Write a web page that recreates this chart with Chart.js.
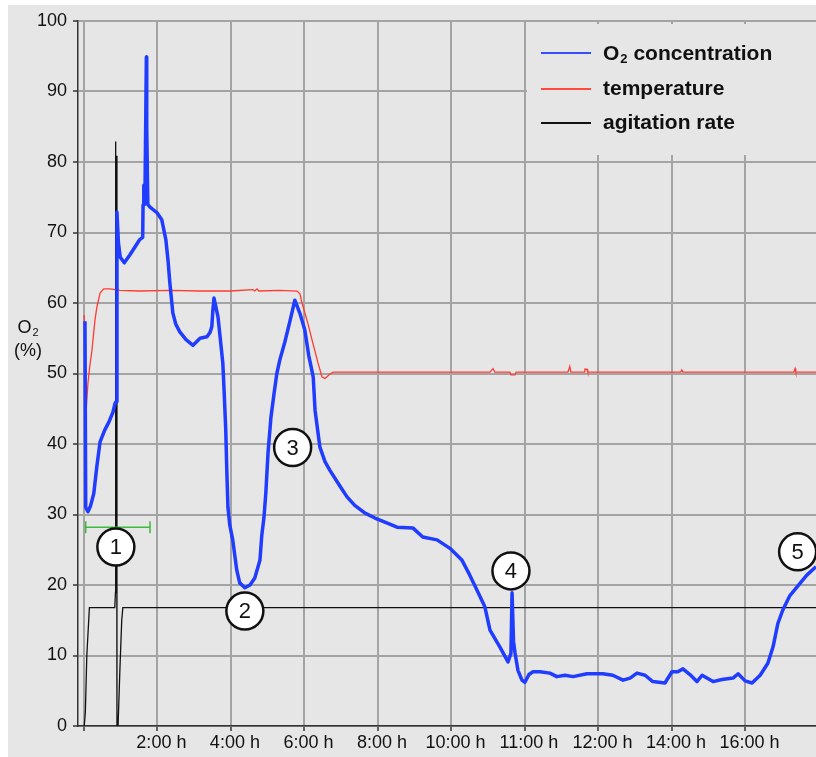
<!DOCTYPE html>
<html>
<head>
<meta charset="utf-8">
<script src="https://cdn.jsdelivr.net/npm/chart.js@4.4.1/dist/chart.umd.min.js"></script>
<style>
  html, body { margin: 0; padding: 0; background: #ffffff; }
  canvas { display: block; }
</style>
</head>
<body>
<canvas id="chart" width="816" height="757"></canvas>
<script>
// === Datos (tiempo en unidades del eje: 2 por division) ===
const xTickVals = [0, 2, 4, 6, 8, 10, 12, 14, 16, 18];
const xTickLabels = ['', '2:00 h', '4:00 h', '6:00 h', '8:00 h', '10:00 h', '11:00 h', '12:00 h', '14:00 h', '16:00 h'];

const o2Time = [0.03, 0.05, 0.11, 0.18, 0.27, 0.35, 0.44, 0.57, 0.68, 0.79, 0.85, 0.88, 0.90, 0.94, 0.99, 1.10,
  1.25, 1.52, 1.60, 1.61, 1.63, 1.66, 1.70, 1.71, 1.74, 1.80, 1.99, 2.12, 2.23, 2.29, 2.34, 2.42, 2.50, 2.61,
  2.78, 2.97, 3.16, 3.35, 3.43, 3.48, 3.51, 3.54, 3.59, 3.65, 3.73, 3.78, 3.82, 3.86, 3.89, 3.92, 3.97, 4.05,
  4.16, 4.24, 4.38, 4.52, 4.65, 4.79, 4.84, 4.90, 4.95, 5.01, 5.09, 5.17, 5.25, 5.33, 5.47, 5.61, 5.74, 5.88,
  6.01, 6.12, 6.20, 6.24, 6.29, 6.42, 6.56, 6.69, 6.97, 7.16, 7.37, 7.65, 7.92, 8.24, 8.52, 8.95, 9.22, 9.61,
  9.96, 10.29, 10.50, 10.72, 10.91, 11.05, 11.32, 11.54, 11.62, 11.65, 11.69, 11.73, 11.81, 11.92, 12.00, 12.11,
  12.22, 12.41, 12.68, 12.87, 13.09, 13.31, 13.69, 14.12, 14.39, 14.67, 14.86, 15.05, 15.27, 15.48, 15.81, 16.00,
  16.16, 16.30, 16.49, 16.68, 16.82, 17.12, 17.36, 17.66, 17.80, 17.99, 18.18, 18.40, 18.61, 18.75, 18.88, 19.02,
  19.21, 19.40, 19.67, 19.92];
const o2Values = [57.4, 31, 30.4, 31.2, 33, 36.7, 40.3, 42, 43.1, 44.5, 45.8, 46, 72.9, 68.5, 66.5, 65.7,
  66.8, 69, 69.3, 73.9, 76.7, 74, 94.9, 85, 74, 73.6, 72.8, 71.8, 69, 66, 62.8, 58.6, 57, 55.9,
  54.8, 54, 55, 55.2, 55.8, 56.6, 59, 60.7, 59.5, 58, 54, 51.5, 47, 42, 36, 31, 28.5, 26.4,
  22.1, 20.3, 19.6, 20, 21, 23.5, 27, 29.6, 33, 38.7, 43.8, 47, 50, 51.9, 54.5, 57.5, 60.4, 58.5,
  56.2, 52.5, 50.5, 49.5, 44.8, 39.6, 37.5, 36.3, 34, 32.5, 31.3, 30.2, 29.5, 28.8, 28.2, 28.1, 26.8, 26.4,
  25.2, 23.5, 21.4, 19, 16.9, 13.6, 11.2, 9.1, 10.3, 18.9, 12, 10.4, 7.9, 6.5, 6.2, 7.3,
  7.7, 7.7, 7.5, 7.0, 7.2, 7.0, 7.4, 7.4, 7.2, 6.5, 6.8, 7.5, 7.2, 6.3, 6.1, 7.7,
  7.7, 8.1, 7.3, 6.3, 7.2, 6.3, 6.6, 6.8, 7.4, 6.4, 6.1, 7.2, 8.9, 11.2, 14.5, 16.5,
  18.5, 19.7, 21.4, 22.6];

const tempTime = [0.01, 0.04, 0.11, 0.16, 0.22, 0.30, 0.35, 0.44, 0.54, 0.71, 0.98, 1.52, 2.34, 3.16, 3.97,
  4.60, 4.65, 4.71, 4.76, 5.33, 5.80, 5.88, 5.93, 6.10, 6.23, 6.37, 6.48, 6.56, 6.69, 6.78, 11.05, 11.13,
  11.18, 11.59, 11.62, 11.73, 11.76, 13.17, 13.22, 13.25, 13.61, 13.63, 13.69, 13.71, 16.24, 16.27, 16.30,
  19.32, 19.35, 19.37, 19.92];
const tempValues = [58.3, 43, 48.6, 51, 53.3, 57.5, 59.3, 61.4, 62, 62, 61.8, 61.7, 61.8, 61.7, 61.7,
  61.9, 61.7, 62, 61.7, 61.8, 61.7, 61.3, 60.1, 57, 54.3, 51.5, 49.5, 49.3, 49.9, 50.2, 50.2, 50.7,
  50.2, 50.2, 49.8, 49.8, 50.2, 50.2, 51, 50.2, 50.2, 50.6, 50.6, 50.2, 50.2, 50.5, 50.2,
  50.2, 50.7, 50.2, 50.2];

const agitTime = [0.01, 0.04, 0.08, 0.15, 0.84, 0.86, 0.86, 0.87, 0.89, 0.90, 0.93, 0.98, 1.03, 1.06, 19.92];
const agitValues = [0, 2, 10, 16.8, 16.8, 19, 82.9, 20, 80.9, 0, 0, 8, 15, 16.8, 16.8];

// marcadores numerados y barra verde
const markerLabels = ['1', '2', '3', '4', '5'];
const markerTime = [0.87, 4.38, 5.68, 11.62, 19.42];
const markerValue = [25.4, 16.3, 39.5, 22.0, 24.7];
const barStart = 0.05;
const barEnd = 1.80;
const barValue = 28.2;

const toPoints = (xs, ys) => xs.map((x, i) => ({ x: x, y: ys[i] }));

const fondo = '#e6e6e6';
const fuente = 'Arial, "Liberation Sans", sans-serif';

function subO2(ctx, x, y, size, bold) {
    // dibuja "O" con subindice "2", devuelve el ancho
    const w = bold ? 'bold ' : '';
    ctx.font = w + size + 'px ' + fuente;
    ctx.fillText('O', x, y);
    const wo = ctx.measureText('O').width;
    ctx.font = w + Math.round(size * 0.62) + 'px ' + fuente;
    ctx.fillText('2', x + wo + 1, y + size * 0.28);
    return wo + 1 + ctx.measureText('2').width;
}

const decor = {
    id: 'decor',
    beforeDraw(chart) {
        const ctx = chart.ctx;
        ctx.save();
        ctx.fillStyle = '#ffffff';
        ctx.fillRect(0, 0, chart.width, chart.height);
        ctx.fillStyle = fondo;
        ctx.fillRect(8, 5, chart.width - 8, chart.height - 5);
        ctx.restore();
    },
    beforeDatasetsDraw(chart) {
        // caja de la leyenda tapa la rejilla
        const ctx = chart.ctx;
        ctx.save();
        ctx.fillStyle = fondo;
        ctx.fillRect(527, 24, chart.width - 527, 131);
        ctx.restore();
    },
    afterDatasetsDraw(chart) {
        const ctx = chart.ctx;
        const xs = chart.scales.x;
        const ys = chart.scales.y;
        ctx.save();

        // barra verde
        const bx1 = xs.getPixelForValue(barStart);
        const bx2 = xs.getPixelForValue(barEnd);
        const by = ys.getPixelForValue(barValue);
        ctx.strokeStyle = '#3dbb3d';
        ctx.lineWidth = 1.5;
        ctx.beginPath();
        ctx.moveTo(bx1, by); ctx.lineTo(bx2, by);
        ctx.moveTo(bx1, by - 6); ctx.lineTo(bx1, by + 6);
        ctx.moveTo(bx2, by - 6); ctx.lineTo(bx2, by + 6);
        ctx.stroke();

        // circulos numerados
        markerLabels.forEach((lab, i) => {
            const cx = xs.getPixelForValue(markerTime[i]);
            const cy = ys.getPixelForValue(markerValue[i]);
            ctx.beginPath();
            ctx.arc(cx, cy, 18.5, 0, Math.PI * 2);
            ctx.fillStyle = '#ffffff';
            ctx.fill();
            ctx.lineWidth = 2.5;
            ctx.strokeStyle = '#111111';
            ctx.stroke();
            ctx.fillStyle = '#111111';
            ctx.font = '22px ' + fuente;
            ctx.textAlign = 'center';
            ctx.textBaseline = 'middle';
            ctx.fillText(lab, cx, cy + 1);
        });

        // leyenda
        const filas = [
            { color: '#3a4cff', y: 53 },
            { color: '#ff4b3e', y: 89 },
            { color: '#111111', y: 123 }
        ];
        ctx.textAlign = 'left';
        ctx.textBaseline = 'middle';
        filas.forEach(f => {
            ctx.strokeStyle = f.color;
            ctx.lineWidth = 2;
            ctx.beginPath();
            ctx.moveTo(541, f.y); ctx.lineTo(591, f.y);
            ctx.stroke();
        });
        ctx.fillStyle = '#111111';
        const wO2 = subO2(ctx, 603, 54, 21, true);
        ctx.font = 'bold 21px ' + fuente;
        ctx.fillText(' concentration', 603 + wO2, 54);
        ctx.fillText('temperature', 603, 89);
        ctx.fillText('agitation rate', 603, 123);

        // titulo del eje y
        ctx.textAlign = 'left';
        const w = subO2(ctx, 0, -100, 18, false);
        subO2(ctx, 28 - w / 2, 328, 18, false);
        ctx.textAlign = 'center';
        ctx.font = '18px ' + fuente;
        ctx.fillText('(%)', 28, 351);

        ctx.restore();
    }
};

const chart = new Chart(document.getElementById('chart'), {
    type: 'line',
    data: {
        datasets: [
            { label: 'O₂ concentration', data: toPoints(o2Time, o2Values), borderColor: '#1f3cff', borderWidth: 3.5, pointRadius: 0, tension: 0, borderJoinStyle: 'round' },
            { label: 'temperature', data: toPoints(tempTime, tempValues), borderColor: '#ff3b30', borderWidth: 1.3, pointRadius: 0, tension: 0 },
            { label: 'agitation rate', data: toPoints(agitTime, agitValues), borderColor: '#111111', borderWidth: 1.3, pointRadius: 0, tension: 0 }
        ]
    },
    options: {
        responsive: false,
        animation: false,
        layout: { padding: { top: 21, left: 0, right: 0, bottom: 0 } },
        plugins: {
            legend: { display: false },
            tooltip: { enabled: false }
        },
        scales: {
            x: {
                type: 'linear',
                min: -0.16,
                max: 19.92,
                afterBuildTicks: s => { s.ticks = xTickVals.map(v => ({ value: v })); },
                afterFit: s => { s.height = 31; },
                ticks: {
                    callback: v => xTickLabels[xTickVals.indexOf(v)],
                    color: '#111111',
                    font: { size: 18, family: fuente },
                    padding: 1,
                    labelOffset: 4,
                    maxRotation: 0,
                    autoSkip: false
                },
                grid: { color: '#a4a4a4', lineWidth: 2, tickLength: 5, tickColor: '#333333', tickWidth: 1.5 },
                border: { display: true, color: '#333333', width: 1.5 }
            },
            y: {
                min: 0,
                max: 100,
                afterFit: s => { s.width = 78; },
                ticks: {
                    stepSize: 10,
                    color: '#111111',
                    font: { size: 18, family: fuente },
                    padding: 6
                },
                grid: { color: '#a4a4a4', lineWidth: 2, tickLength: 5, tickColor: '#333333', tickWidth: 1.5 },
                border: { display: true, color: '#333333', width: 1.5 }
            }
        }
    },
    plugins: [decor]
});
</script>
</body>
</html>
